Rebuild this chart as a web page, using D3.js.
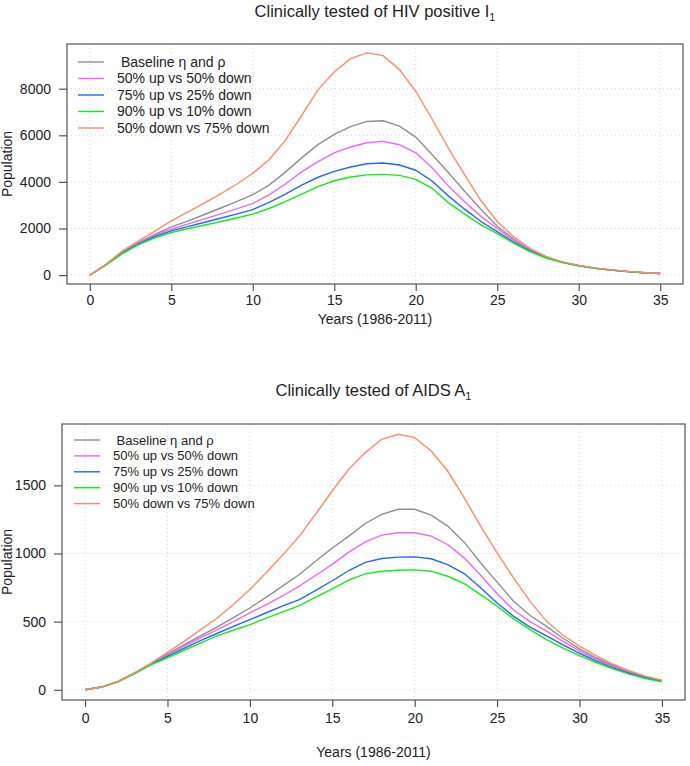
<!DOCTYPE html>
<html lang="en">
<head>
<meta charset="UTF-8">
<title>Clinically tested populations</title>
<style>
  body { margin: 0; background: #fff; }
  text { font-family: "Liberation Sans", Arial, sans-serif; fill: #222; }
</style>
</head>
<body>
<div id="chart"></div>
<script src="https://d3js.org/d3.v7.min.js"></script>
<script>

// years since 1986
var years = [0,1,2,3,4,5,6,7,8,9,10,11,12,13,14,15,16,17,18,19,20,21,22,23,24,25,26,27,28,29,30,31,32,33,34,35];
var xTicks = [0, 5, 10, 15, 20, 25, 30, 35];

var seriesNames = [" Baseline \u03b7 and \u03c1", "50% up vs 50% down", "75% up vs 25% down", "90% up vs 10% down", "50% down vs 75% down"];
var seriesColors = ["#8f8f8f", "#ef66f7", "#2266ff", "#11ee11", "#ff8a6e"];

// clinically tested HIV positive, I1
var hivBaseline = [0,455,990,1400,1750,2070,2320,2590,2870,3150,3450,3860,4420,5030,5600,6040,6370,6595,6625,6395,5925,5180,4400,3600,2830,2100,1550,1100,780,560,410,300,220,155,105,68];
var hivUp50     = [0,450,970,1370,1700,1970,2190,2400,2620,2840,3080,3440,3910,4430,4870,5250,5500,5680,5740,5595,5250,4610,3830,3150,2520,2000,1490,1070,765,555,405,298,218,153,104,67];
var hivUp75     = [0,445,950,1340,1650,1900,2080,2260,2440,2620,2810,3120,3480,3860,4200,4450,4640,4780,4810,4725,4500,4040,3400,2830,2300,1870,1420,1040,750,545,400,295,215,150,102,66];
var hivUp90     = [0,440,920,1310,1600,1830,1990,2140,2290,2450,2620,2860,3150,3480,3800,4050,4210,4300,4325,4280,4110,3725,3110,2620,2160,1780,1370,1010,735,535,395,290,212,148,100,65];
var hivDown75   = [0,470,1040,1470,1890,2325,2700,3080,3480,3900,4370,4950,5780,6850,7950,8720,9290,9537,9420,8820,7890,6700,5450,4300,3200,2300,1650,1150,800,570,420,310,225,160,110,70];
var hivTicks = [0, 2000, 4000, 6000, 8000];

// clinically tested AIDS, A1
var aidsBaseline = [0,20,61,123,190,262,330,395,460,530,600,680,762,846,945,1040,1127,1220,1287,1324,1324,1282,1201,1083,930,790,650,545,465,378,300,235,180,135,95,68];
var aidsUp50     = [0,20,61,122,188,255,318,380,440,500,564,625,690,760,840,920,1010,1085,1135,1152,1152,1127,1066,968,840,705,585,500,430,355,285,225,172,128,92,65];
var aidsUp75     = [0,20,60,121,186,245,303,360,413,465,515,565,615,662,730,800,875,935,963,973,975,961,919,853,748,637,539,460,395,330,268,212,163,122,88,62];
var aidsUp90     = [0,20,59,119,182,235,290,343,395,437,478,525,572,618,680,740,805,850,870,877,880,870,833,779,698,613,520,441,368,305,250,200,155,115,83,58];
var aidsDown75   = [0,20,62,125,195,274,355,440,525,625,735,860,990,1127,1290,1460,1618,1740,1838,1875,1850,1752,1605,1410,1200,1005,821,649,502,400,320,250,190,140,100,70];
var aidsTicks = [0, 500, 1000, 1500];

var svg = d3.select("#chart").append("svg")
    .attr("width", 690)
    .attr("height", 766);

drawPanel({
    title: "Clinically tested of HIV positive I", sub: "1",
    series: [hivBaseline, hivUp50, hivUp75, hivUp90, hivDown75],
    yTicks: hivTicks,
    left: 67, right: 683, top: 44, bottom: 284,
    titleY: 17, tickLabY: 305, xLabY: 324,
    legX: 78, legY: 62, legStep: 16.5, legFont: 14
});

drawPanel({
    title: "Clinically tested of AIDS A", sub: "1",
    series: [aidsBaseline, aidsUp50, aidsUp75, aidsUp90, aidsDown75],
    yTicks: aidsTicks,
    left: 62, right: 685, top: 424, bottom: 700,
    titleY: 396, tickLabY: 723, xLabY: 757,
    legX: 74, legY: 440, legStep: 15.9, legFont: 13
});

function drawPanel(p) {
    var all = d3.merge(p.series);
    var yMin = d3.min(all), yMax = d3.max(all);
    var pad = (yMax - yMin) * 0.04;

    var x = d3.scaleLinear().domain([-1.4, 36.4]).range([p.left, p.right]);
    var y = d3.scaleLinear().domain([yMin - pad, yMax + pad]).range([p.bottom, p.top]);

    var g = svg.append("g");

    // dotted grid
    g.selectAll(".vgrid").data(xTicks).enter().append("line")
        .attr("x1", function(d) { return x(d); }).attr("x2", function(d) { return x(d); })
        .attr("y1", p.top).attr("y2", p.bottom)
        .attr("stroke", "#d6d6d6").attr("stroke-dasharray", "1,3");
    g.selectAll(".hgrid").data(p.yTicks).enter().append("line")
        .attr("x1", p.left).attr("x2", p.right)
        .attr("y1", function(d) { return y(d); }).attr("y2", function(d) { return y(d); })
        .attr("stroke", "#d6d6d6").attr("stroke-dasharray", "1,3");

    // curves
    var line = d3.line()
        .x(function(d, i) { return x(years[i]); })
        .y(function(d) { return y(d); });

    g.selectAll(".curve").data(p.series).enter().append("path")
        .attr("d", line)
        .attr("fill", "none")
        .attr("stroke", function(d, i) { return seriesColors[i]; })
        .attr("stroke-width", 1.4);

    // box
    g.append("rect")
        .attr("x", p.left).attr("y", p.top)
        .attr("width", p.right - p.left).attr("height", p.bottom - p.top)
        .attr("fill", "none").attr("stroke", "#555").attr("stroke-width", 1.2);

    // axes
    var xAxis = g.append("g")
        .attr("transform", "translate(0," + p.bottom + ")")
        .call(d3.axisBottom(x).tickValues(xTicks).tickSize(7).tickPadding(6).tickSizeOuter(0))
        .attr("font-size", 14)
        .attr("font-family", "'Liberation Sans', Arial, sans-serif");
    xAxis.select(".domain").remove();
    xAxis.selectAll("line").attr("stroke", "#555").attr("stroke-width", 1.2);
    xAxis.selectAll("text").attr("y", null).attr("dy", null)
        .attr("transform", "translate(0," + (p.tickLabY - p.bottom) + ")")
        .attr("fill", "#222");

    var yAxis = g.append("g")
        .attr("transform", "translate(" + p.left + ",0)")
        .call(d3.axisLeft(y).tickValues(p.yTicks).tickSize(8).tickPadding(8).tickFormat(d3.format("d")))
        .attr("font-size", 14)
        .attr("font-family", "'Liberation Sans', Arial, sans-serif");
    yAxis.select(".domain").remove();
    yAxis.selectAll("line").attr("stroke", "#555").attr("stroke-width", 1.2);
    yAxis.selectAll("text").attr("fill", "#222");

    // titles
    var cx = (p.left + p.right) / 2;
    var t = g.append("text")
        .attr("x", cx).attr("y", p.titleY)
        .attr("text-anchor", "middle")
        .style("font-size", "16.5px");
    t.append("tspan").text(p.title);
    t.append("tspan").attr("dy", 4).style("font-size", "11px").text(p.sub);

    g.append("text")
        .attr("x", cx).attr("y", p.xLabY)
        .attr("text-anchor", "middle")
        .style("font-size", "14px")
        .text("Years (1986-2011)");

    g.append("text")
        .attr("transform", "translate(12," + ((p.top + p.bottom) / 2) + ") rotate(-90)")
        .attr("text-anchor", "middle")
        .style("font-size", "14px")
        .text("Population");

    // legend
    var leg = g.selectAll(".leg").data(seriesNames).enter().append("g")
        .attr("transform", function(d, i) { return "translate(" + p.legX + "," + (p.legY + i * p.legStep) + ")"; });
    leg.append("line")
        .attr("x1", 0).attr("x2", 26)
        .attr("stroke", function(d, i) { return seriesColors[i]; })
        .attr("stroke-width", 1.4);
    leg.append("text")
        .attr("x", 39).attr("dy", "0.35em")
        .style("font-size", p.legFont + "px")
        .style("white-space", "pre")
        .attr("xml:space", "preserve")
        .text(function(d) { return d; });
}

</script>
</body>
</html>
